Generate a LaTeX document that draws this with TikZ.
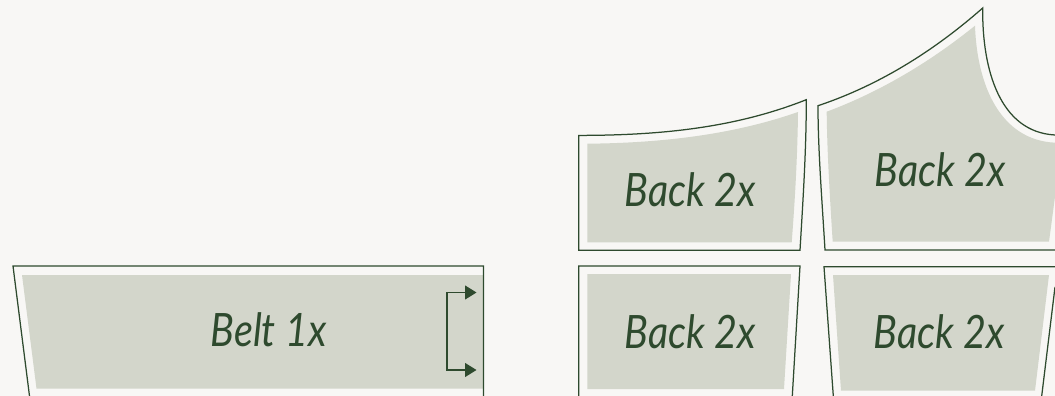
\documentclass[tikz,border=0pt]{standalone}
\usepackage{fontspec}
\setmainfont{Lato}
\usetikzlibrary{arrows.meta}
\definecolor{paper}{HTML}{F8F7F5}
\definecolor{cloth}{HTML}{D3D6CB}
\definecolor{seam}{HTML}{2E4A2E}
\def\beltedge{(29.5,396) -- (13,266) -- (483.5,266) -- (483.5,396)}
\def\beltarea{(22,275) -- (483,275) -- (483,388.5) -- (36.5,388.5) -- cycle}
\def\yokeedge{(578.7,250.3) -- (578.7,135.4) .. controls (660,135.4) and (735,128) .. (806.3,99.7) .. controls (806.3,150) and (803,200) .. (800,250.3) -- cycle}
\def\yokearea{(587.3,242.3) -- (587.3,143.7) .. controls (665,143) and (735,134) .. (798,112) .. controls (797.5,155) and (795,200) .. (791.7,242.3) -- cycle}
\def\armedge{(1055,250) -- (825,250) .. controls (822,200) and (818,150) .. (818,105.7) .. controls (880,85) and (935,50) .. (982.7,8) .. controls (982,70) and (1000,132) .. (1055,135)}
\def\armarea{(1055,196.7) -- (1049,241.7) -- (832.7,241.7) .. controls (830,200) and (827,150) .. (826.7,111.7) .. controls (885,90) and (935,58) .. (975,25.7) .. controls (977,85) and (1000,140) .. (1055,142.7) -- cycle}
\def\paneledge{(792.3,396) -- (800,266) -- (578.7,266) -- (578.7,396)}
\def\panelarea{(587.3,274) -- (791,274) -- (784,389) -- (587.3,389) -- cycle}
\def\sideedge{(833.3,396) -- (824,266.7) -- (1055,266.7)}
\def\sideline{(1055,287) -- (1041.7,396)}
\def\sidearea{(833,275) -- (1049,275) -- (1035,390.7) -- (841,390.7) -- cycle}
\tikzset{filled/.style={fill=cloth},
	outline/.style={draw=seam, line width=1.25pt, line join=miter},
	piecelabel/.style={text=seam, inner sep=0pt, anchor=base, xscale=.86, font=\itshape\fontsize{46}{46}\selectfont},
	foldarrow/.style={draw=seam, line width=1.1pt, {Triangle[length=11.5pt,width=14pt]}-{Triangle[length=11.5pt,width=14pt]}}}

\begin{document}
\begin{tikzpicture}[x=1pt,y=-1pt]
		\fill[paper] (0,0) rectangle (1055,396);
		\useasboundingbox (0,0) rectangle (1055,396);
		\fill[filled] \beltarea;
		\fill[filled] \yokearea;
		\fill[filled] \armarea;
		\fill[filled] \panelarea;
		\fill[filled] \sidearea;
		\draw[outline] \beltedge;
		\draw[outline] \yokeedge;
		\draw[outline] \armedge;
		\draw[outline] \paneledge;
		\draw[outline] \sideedge;
		\draw[outline] \sideline;
		\node[piecelabel] (belt) at (268.5,346) {Belt 1x};
		\node[piecelabel] (yoke) at (690.3,206.7) {Back 2x};
		\node[piecelabel] (arm) at (940,186) {Back 2x};
		\node[piecelabel] (panel) at (690.3,348.7) {Back 2x};
		\node[piecelabel] (side) at (939.5,348.7) {Back 2x};
		\coordinate (foldtop) at (476.5,292.5);
		\coordinate (foldbottom) at (476.5,370);
		\draw[foldarrow] (foldtop) -- (447,292.5) -- (447,370) -- (foldbottom);
		\end{tikzpicture}
\end{document}
